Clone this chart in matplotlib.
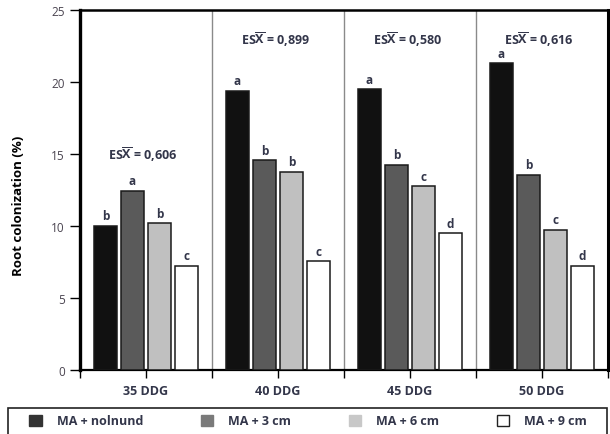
import matplotlib
matplotlib.use("Agg")
import matplotlib.pyplot as plt
from matplotlib.patches import Rectangle, Patch
import numpy as np

plt.rcParams['font.family'] = ['Open Sans', 'DejaVu Sans']
plt.rcParams['mathtext.fontset'] = 'custom'
plt.rcParams['mathtext.rm'] = 'Open Sans:bold'
plt.rcParams['mathtext.it'] = 'Open Sans:bold'
plt.rcParams['mathtext.bf'] = 'Open Sans:bold'

groups = ["35 DDG", "40 DDG", "45 DDG", "50 DDG"]
series = ["MA + nolnund", "MA + 3 cm", "MA + 6 cm", "MA + 9 cm"]
values = {
    "MA + nolnund": [10.0, 19.4, 19.5, 21.3],
    "MA + 3 cm":    [12.45, 14.55, 14.25, 13.55],
    "MA + 6 cm":    [10.2, 13.75, 12.75, 9.75],
    "MA + 9 cm":    [7.25, 7.55, 9.5, 7.25],
}
letters = {
    "MA + nolnund": ["b", "a", "a", "a"],
    "MA + 3 cm":    ["a", "b", "b", "b"],
    "MA + 6 cm":    ["b", "b", "c", "c"],
    "MA + 9 cm":    ["c", "c", "d", "d"],
}
es_labels = ["0,606", "0,899", "0,580", "0,616"]
es_heights = [15.0, 23.0, 23.0, 23.0]
yticks = [0, 5, 10, 15, 20, 25]

bar_colors = ["#111111", "#5a5a5a", "#c0c0c0", "#ffffff"]
legend_colors = ["#333333", "#7a7a7a", "#c8c8c8", "#ffffff"]
txt_color = "#33364a"

fig = plt.figure(figsize=(6.10, 4.35), dpi=100)
ax = fig.add_axes([80/610, 1-371/435, 528/610, 360/435])

x = np.arange(len(groups))
width = 0.18
step = 0.205
offsets = (np.arange(len(series)) - 1.5) * step
for i, s in enumerate(series):
    ax.bar(x + offsets[i], values[s], width=width, color=bar_colors[i],
           edgecolor="#1a1a1a", linewidth=1.1, zorder=3)
    for j, v in enumerate(values[s]):
        ax.text(x[j] + offsets[i], v + 0.25, letters[s][j], ha="center", va="bottom",
                fontsize=8.5, fontweight="bold", color=txt_color, zorder=4)

for j, lab in enumerate(es_labels):
    ax.text(x[j] - 0.02, es_heights[j], r"ES$\overline{\mathrm{X}}$ = " + lab,
            ha="center", va="center", fontsize=9, fontweight="bold", color=txt_color)

for b in [0.5, 1.5, 2.5]:
    ax.axvline(b, color="#8a8a8a", linewidth=1.0, zorder=1)

ax.set_xlim(-0.5, 3.5)
ax.set_ylim(0, 25)
ax.set_yticks(yticks)
ax.set_yticklabels([str(t) for t in yticks], fontsize=8.5, color="#4a4450")
ax.set_xticks(x)
ax.set_xticklabels(groups, fontsize=9, fontweight="bold", color=txt_color)
ax.set_xticks([-0.5, 0.5, 1.5, 2.5, 3.5], minor=True)
ax.tick_params(axis="x", which="both", direction="out", length=6, width=1.0, pad=4)
ax.tick_params(axis="y", direction="out", length=7, width=1.0, pad=4)

ax.spines["left"].set_linewidth(2.4)
ax.spines["top"].set_linewidth(1.8)
ax.spines["right"].set_linewidth(2.2)
ax.spines["bottom"].set_linewidth(1.6)
for sp in ax.spines.values():
    sp.set_color("black")

ax.set_ylabel("Root colonization (%)", fontsize=9.5, fontweight="bold", color="black", labelpad=8)
ax.yaxis.set_label_coords(-0.105, 0.46)

# legend box
fig.patches.append(Rectangle((8/610, -0.05), 599/610, 0.05 + (435-409)/435,
                             transform=fig.transFigure, facecolor="white",
                             edgecolor="#222222", linewidth=1.2))
handles = [Patch(facecolor=legend_colors[i], edgecolor="#222222" if i == 3 else legend_colors[i],
                 linewidth=1.0) for i in range(len(series))]
fig.legend(handles, series, loc="center", bbox_to_anchor=(0.505, (435-422)/435),
           ncol=4, frameon=False, handlelength=1.0, handleheight=1.0,
           columnspacing=4.6, handletextpad=1.2, prop={"weight": "bold", "size": 9})
for t in fig.legends[0].get_texts():
    t.set_color(txt_color)

fig.savefig("out.png", dpi=100)
